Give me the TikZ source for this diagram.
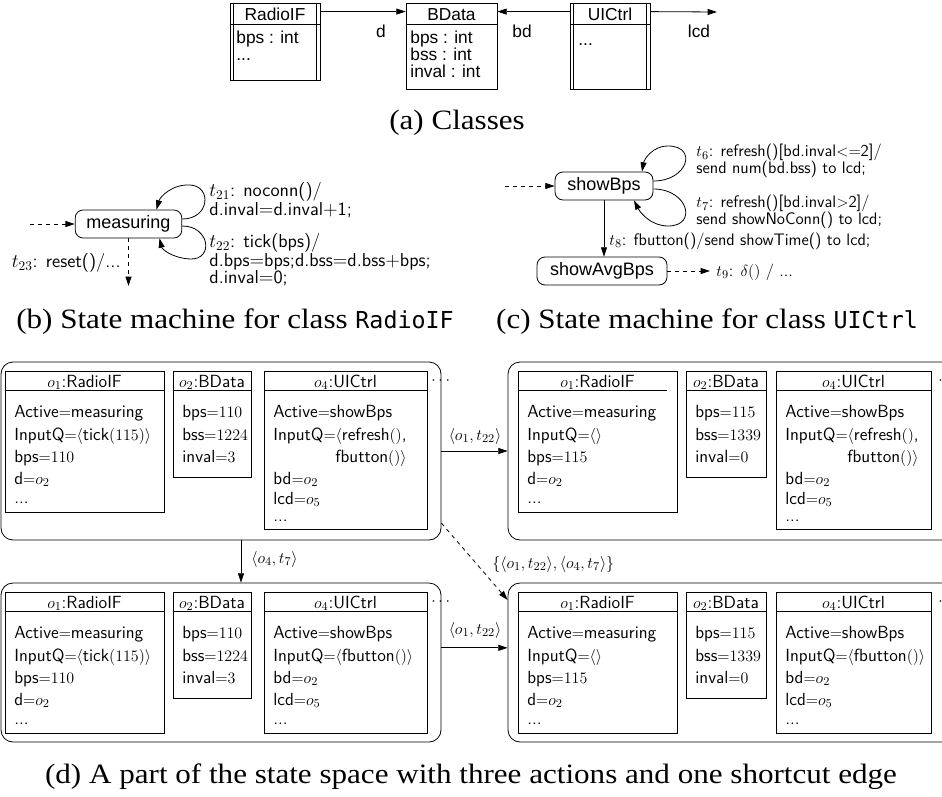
\documentclass[tikz,border=0pt]{standalone}
\usepackage{fontspec}
\newfontfamily\helv{Liberation Sans}
\newfontfamily\capserif[FakeStretch=1.11]{Liberation Serif}
\newfontfamily\capmono{DejaVu Sans Mono}
\usetikzlibrary{arrows.meta,fit,calc}
\newcommand\eq{$=$}
\tikzset{
  x=0.75pt, y=-0.75pt,
  tip/.style={-{Triangle[length=7pt,width=4.5pt]}},
  clsbox/.style={draw, inner sep=0pt},
  ctext/.style={font=\helv\fontsize{13}{15}\selectfont, inner sep=0pt},
  stnode/.style={draw, rounded corners=6pt, font=\helv\fontsize{13.5}{15}\selectfont, minimum height=21pt, inner sep=0pt},
  lblb/.style={font=\sffamily\fontsize{14}{13.2}\selectfont, align=left, inner sep=0pt},
  lbl/.style={font=\sffamily\fontsize{12.5}{12.8}\selectfont, align=left, inner sep=0pt},
  obox/.style={draw, inner sep=0pt},
  otext/.style={font=\sffamily\fontsize{13.2}{15}\selectfont, inner sep=0pt},
  outer/.style={draw, rounded corners=9pt, inner sep=0pt},
  capt/.style={font=\capserif\fontsize{21}{24}\selectfont, inner sep=0pt},
  capmn/.style={font=\capmono\fontsize{17.5}{20}\selectfont},
}
% object box: name, x1, ytop, x2, ybottom, title
\newcommand\objbox[6]{%
  \node[obox, fit={(#2,#3) (#4,#5)}] (#1) {};
  \node[otext, anchor=base] (#1-t) at ({(#2+#4)/2},#3+16) {#6};}
\newcommand\osep[2]{\draw ([yshift=-15pt]#1.north west) -- ([yshift=-15pt,xshift=-#2]#1.north east);}
\newcommand\oln[4]{\node[otext, anchor=base west] (#1) at (#2,#3) {#4};}
\begin{document}
\begin{tikzpicture}[line width=0.6pt]
\useasboundingbox (0,0) rectangle (942,796);

% ---------------- (a) classes
\node[clsbox, fit={(230,3) (320,80)}] (rif) {};
\draw ([xshift=3pt]rif.north west) -- ([xshift=3pt]rif.south west);
\draw ([xshift=-3pt]rif.north east) -- ([xshift=-3pt]rif.south east);
\draw ([yshift=-16.5pt]rif.north west) -- ([yshift=-16.5pt]rif.north east);
\node[ctext, anchor=base] (rift) at (275,20) {RadioIF};
\node[ctext, anchor=base west] (rifa) at (236,43) {bps : int};
\node[ctext, anchor=base west] (rifb) at (236,60) {...};

\node[clsbox, fit={(406,3) (497,89)}] (bdc) {};
\draw ([yshift=-16.5pt]bdc.north west) -- ([yshift=-16.5pt]bdc.north east);
\node[ctext, anchor=base] (bdct) at (451.5,20) {BData};
\node[ctext, anchor=base west] (bdca) at (410,43) {bps : int};
\node[ctext, anchor=base west] (bdcb) at (410,60) {bss : int};
\node[ctext, anchor=base west] (bdcc) at (410,77) {inval : int};

\node[clsbox, fit={(570,3) (650,89)}] (uic) {};
\draw ([xshift=3pt]uic.north west) -- ([xshift=3pt]uic.south west);
\draw ([xshift=-3pt]uic.north east) -- ([xshift=-3pt]uic.south east);
\draw ([yshift=-16.5pt]uic.north west) -- ([yshift=-16.5pt]uic.north east);
\node[ctext, anchor=base] (uict) at (610,20) {UICtrl};
\node[ctext, anchor=base west] (uica) at (578,45) {...};

\coordinate (lcdend) at (717,12);
\draw[tip] ([yshift=-6.75pt]rif.north east) -- ([yshift=-6.75pt]bdc.north west);
\draw[tip] ([yshift=-6.75pt]uic.north west) -- ([yshift=-6.75pt]bdc.north east);
\draw[tip] ([yshift=-6.75pt]uic.north east) -- (lcdend);
\node[ctext] (ld) at (381,31) {d};
\node[ctext] (lbd) at (522,31) {bd};
\node[ctext] (llcd) at (699,31) {lcd};

\node[capt, anchor=base] (capa) at (457,129) {(a) Classes};

% ---------------- (b) RadioIF state machine
\node[stnode, minimum width=80pt] (ms) at (128.5,224) {measuring};
\coordinate (msinit) at (30,224);
\draw[tip, dashed] (msinit) -- (ms.west);
\draw[tip] ([shift={(0,-5)}]ms.east) .. controls (210,219) and (212,186) .. (190,185)
   .. controls (172,184) and (160,197) .. ([shift={(28,0)}]ms.north);
\draw[tip] ([shift={(0,2)}]ms.east) .. controls (210,226) and (214,260) .. (190,259)
   .. controls (172,258) and (162,249) .. ([shift={(31,0)}]ms.south);
\node[lblb, anchor=north west] (t21) at (209,182) {$t_{21}$: noconn()/\\d.inval\eq d.inval$+$1;};
\node[lblb, anchor=north west] (t22) at (209,233) {$t_{22}$: tick(bps)/\\d.bps\eq bps;d.bss\eq d.bss$+$bps;\\d.inval\eq 0;};
\coordinate (t23end) at (128.5,286);
\draw[tip, dashed] (ms.south) -- (t23end);
\node[lblb, anchor=east] (t23) at (121,263) {$t_{23}$: reset()/...};

\node[capt, anchor=base] (capb) at (235,328) {(b) State machine for class \tikz[baseline]\node[capmn, inner sep=0pt, anchor=base] (capbm) {RadioIF};};

% ---------------- (c) UICtrl state machine
\node[stnode, minimum width=73.5pt] (sb) at (604,186) {showBps};
\node[stnode, minimum width=97.5pt] (sa) at (602,271) {showAvgBps};
\coordinate (sbinit) at (505,186);
\draw[tip, dashed] (sbinit) -- (sb.west);
\draw[tip] ([shift={(0,-5)}]sb.east) .. controls (688,181) and (698,146) .. (668,146)
   .. controls (652,146) and (644,160) .. ([shift={(38,0)}]sb.north);
\draw[tip] ([shift={(0,3)}]sb.east) .. controls (688,189) and (698,226) .. (668,226)
   .. controls (652,226) and (641,214) .. ([shift={(30,0)}]sb.south);
\node[lbl, anchor=north west] (t6) at (696,144) {$t_6$: refresh()[bd.inval$<=$2]/\\send num(bd.bss) to lcd;};
\node[lbl, anchor=north west] (t7) at (696,195) {$t_7$: refresh()[bd.inval$>$2]/\\send showNoConn() to lcd;};
\draw[tip] (sb.south) -- (sb.south |- sa.north);
\node[lbl, anchor=west] (t8) at (609,241) {$t_8$: fbutton()/send showTime() to lcd;};
\coordinate (t9end) at (710,271);
\draw[tip, dashed] (sa.east) -- (t9end);
\node[lbl, anchor=west] (t9) at (716,272) {$t_9$: $\delta()$ / ...};

\node[capt, anchor=base] (capc) at (707,328) {(c) State machine for class \tikz[baseline]\node[capmn, inner sep=0pt, anchor=base] (capcm) {UICtrl};};

% ---------------- (d) state space
\node[outer, fit={(1,362) (441,540)}] (s1) {};
\node[outer, fit={(508,362) (960,540)}] (s2) {};
\node[outer, fit={(1,583) (441,742)}] (s3) {};
\node[outer, fit={(508,583) (960,742)}] (s4) {};

% s1
\objbox{a1}{5}{371}{164}{512}{$o_1$:RadioIF}\osep{a1}{0pt}
\oln{a1l1}{14}{417}{Active\eq measuring}
\oln{a1l2}{14}{440}{InputQ\eq$\langle$tick$(115)\rangle$}
\oln{a1l3}{14}{462}{bps\eq$110$}
\oln{a1l4}{14}{484}{d\eq$o_2$}
\oln{a1l5}{14}{503}{...}
\objbox{a2}{173}{371}{251}{477}{$o_2$:BData}\osep{a2}{0pt}
\oln{a2l1}{182}{417}{bps\eq$110$}
\oln{a2l2}{182}{440}{bss\eq$1224$}
\oln{a2l3}{182}{462}{inval\eq$3$}
\objbox{a4}{264}{371}{427}{529}{$o_4$:UICtrl}\osep{a4}{0pt}
\oln{a4l1}{273}{417}{Active\eq showBps}
\oln{a4l2}{273}{440}{InputQ\eq$\langle$refresh$()$,}
\node[otext, anchor=base east] (a4l3) at (a4l2.base east |- 0,462) {fbutton$()\rangle$};
\oln{a4l4}{273}{484}{bd\eq$o_2$}
\oln{a4l5}{273}{504}{lcd\eq$o_5$}
\oln{a4l6}{273}{521}{...}
\node[otext, anchor=base west] (s1d) at (431,384) {$\cdots$};

% s2
\objbox{b1}{518}{371}{677}{512}{$o_1$:RadioIF}\osep{b1}{7.5pt}
\oln{b1l1}{527}{417}{Active\eq measuring}
\oln{b1l2}{527}{440}{InputQ\eq$\langle\rangle$}
\oln{b1l3}{527}{462}{bps\eq$115$}
\oln{b1l4}{527}{484}{d\eq$o_2$}
\oln{b1l5}{527}{503}{...}
\objbox{b2}{686}{371}{766}{477}{$o_2$:BData}\osep{b2}{0pt}
\oln{b2l1}{695}{417}{bps\eq$115$}
\oln{b2l2}{695}{440}{bss\eq$1339$}
\oln{b2l3}{695}{462}{inval\eq$0$}
\objbox{b4}{776}{371}{931}{529}{$o_4$:UICtrl}\osep{b4}{0pt}
\oln{b4l1}{785}{417}{Active\eq showBps}
\oln{b4l2}{785}{440}{InputQ\eq$\langle$refresh$()$,}
\node[otext, anchor=base east] (b4l3) at (b4l2.base east |- 0,462) {fbutton$()\rangle$};
\oln{b4l4}{785}{484}{bd\eq$o_2$}
\oln{b4l5}{785}{504}{lcd\eq$o_5$}
\oln{b4l6}{785}{521}{...}
\node[otext, anchor=base west] (s2d) at (938,384) {$\cdot$};

% s3
\objbox{c1}{5}{592}{164}{733}{$o_1$:RadioIF}\osep{c1}{0pt}
\oln{c1l1}{14}{638}{Active\eq measuring}
\oln{c1l2}{14}{661}{InputQ\eq$\langle$tick$(115)\rangle$}
\oln{c1l3}{14}{683}{bps\eq$110$}
\oln{c1l4}{14}{705}{d\eq$o_2$}
\oln{c1l5}{14}{724}{...}
\objbox{c2}{173}{592}{251}{698}{$o_2$:BData}\osep{c2}{0pt}
\oln{c2l1}{182}{638}{bps\eq$110$}
\oln{c2l2}{182}{661}{bss\eq$1224$}
\oln{c2l3}{182}{683}{inval\eq$3$}
\objbox{c4}{264}{592}{427}{733}{$o_4$:UICtrl}\osep{c4}{0pt}
\oln{c4l1}{273}{638}{Active\eq showBps}
\oln{c4l2}{273}{661}{InputQ\eq$\langle$fbutton$()\rangle$}
\oln{c4l4}{273}{683}{bd\eq$o_2$}
\oln{c4l5}{273}{705}{lcd\eq$o_5$}
\oln{c4l6}{273}{724}{...}
\node[otext, anchor=base west] (s3d) at (431,605) {$\cdots$};

% s4
\objbox{d1}{518}{592}{677}{733}{$o_1$:RadioIF}\osep{d1}{0pt}
\oln{d1l1}{527}{638}{Active\eq measuring}
\oln{d1l2}{527}{661}{InputQ\eq$\langle\rangle$}
\oln{d1l3}{527}{683}{bps\eq$115$}
\oln{d1l4}{527}{705}{d\eq$o_2$}
\oln{d1l5}{527}{724}{...}
\objbox{d2}{686}{592}{766}{698}{$o_2$:BData}\osep{d2}{0pt}
\oln{d2l1}{695}{638}{bps\eq$115$}
\oln{d2l2}{695}{661}{bss\eq$1339$}
\oln{d2l3}{695}{683}{inval\eq$0$}
\objbox{d4}{776}{592}{931}{733}{$o_4$:UICtrl}\osep{d4}{0pt}
\oln{d4l1}{785}{638}{Active\eq showBps}
\oln{d4l2}{785}{661}{InputQ\eq$\langle$fbutton$()\rangle$}
\oln{d4l4}{785}{683}{bd\eq$o_2$}
\oln{d4l5}{785}{705}{lcd\eq$o_5$}
\oln{d4l6}{785}{724}{...}
\node[otext, anchor=base west] (s4d) at (938,605) {$\cdot$};

% transitions
\draw[tip] (s1.east) -- (s2.west);
\node[otext] (e1) at (475,436) {$\langle o_1, t_{22}\rangle$};
\draw[tip] ([xshift=15pt]s1.south) -- ([xshift=15pt]s1.south |- s3.north);
\node[otext, anchor=west] (e2) at (251,559) {$\langle o_4, t_7\rangle$};
\draw[tip] ([yshift=11pt]s3.east) -- ([yshift=11pt]s4.west);
\node[otext] (e3) at (475,630) {$\langle o_1, t_{22}\rangle$};
\draw[tip, dashed] ([yshift=13pt]s1.south east) -- ([yshift=-13pt]s4.north west);
\node[otext, anchor=west] (e4) at (492,564) {$\{\langle o_1, t_{22}\rangle, \langle o_4, t_7\rangle\}$};

\node[capt, anchor=base] (capd) at (471,783) {(d) A part of the state space with three actions and one shortcut edge};
\end{tikzpicture}
\end{document}
